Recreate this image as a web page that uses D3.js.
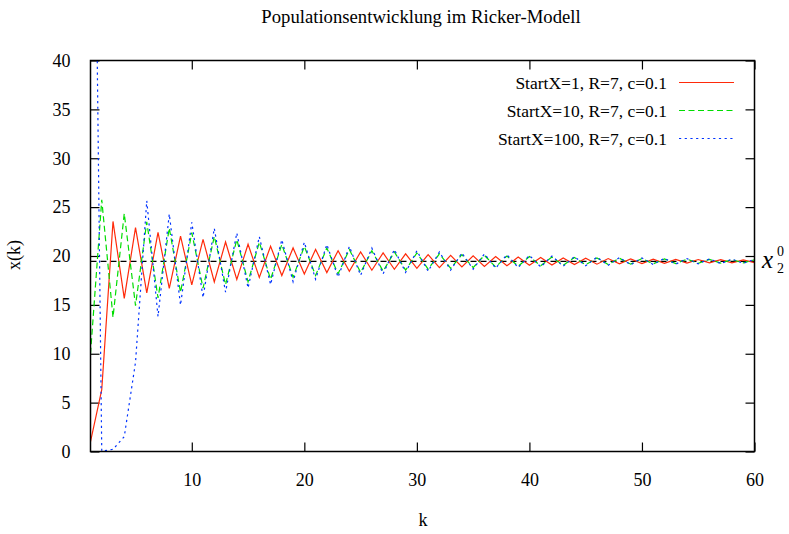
<!DOCTYPE html>
<html>
<head>
<meta charset="utf-8">
<script src="https://d3js.org/d3.v7.min.js"></script>
<style>
body{margin:0;background:#fff;}
text{font-family:"Liberation Serif","Times New Roman",serif;fill:#000;}
</style>
</head>
<body>
<script>
var width = 789, height = 534;
var margin = {left: 90.5, right: 34.5, top: 60.5, bottom: 82.5};

// population values x(k), k = 1..60
var series1 = [1, 6.334, 23.534, 15.657, 22.900, 16.233, 22.413, 16.681, 22.022, 17.043,
 21.701, 17.342, 21.431, 17.595, 21.200, 17.813, 21.000, 18.001, 20.827, 18.164,
 20.675, 18.308, 20.541, 18.434, 20.424, 18.545, 20.320, 18.644, 20.227, 18.732,
 20.145, 18.809, 20.072, 18.878, 20.007, 18.940, 19.949, 18.995, 19.897, 19.044,
 19.851, 19.088, 19.809, 19.128, 19.772, 19.163, 19.739, 19.194, 19.709, 19.222,
 19.683, 19.247, 19.659, 19.270, 19.638, 19.290, 19.619, 19.308, 19.602, 19.324];
var series2 = [10, 25.752, 13.725, 24.352, 14.929, 23.484, 15.702, 22.862, 16.268, 22.383,
 16.708, 21.999, 17.064, 21.682, 17.360, 21.414, 17.611, 21.186, 17.826, 20.988,
 18.012, 20.816, 18.175, 20.665, 18.317, 20.533, 18.442, 20.416, 18.553, 20.312,
 18.651, 20.221, 18.737, 20.140, 18.814, 20.068, 18.882, 20.004, 18.943, 19.946,
 18.998, 19.894, 19.047, 19.848, 19.091, 19.807, 19.130, 19.770, 19.165, 19.737,
 19.196, 19.708, 19.223, 19.682, 19.248, 19.658, 19.271, 19.637, 19.291, 19.618];
var series3 = [100, 0.0318, 0.2218, 1.518, 9.131, 25.648, 13.813, 24.294, 14.980, 23.444,
 15.739, 22.832, 16.295, 22.360, 16.729, 21.980, 17.082, 21.666, 17.375, 21.401,
 17.624, 21.174, 17.837, 20.978, 18.022, 20.807, 18.183, 20.658, 18.324, 20.526,
 18.449, 20.410, 18.558, 20.308, 18.655, 20.217, 18.741, 20.136, 18.818, 20.064,
 18.886, 20.000, 18.947, 19.942, 19.002, 19.891, 19.050, 19.845, 19.094, 19.804,
 19.132, 19.768, 19.167, 19.735, 19.198, 19.706, 19.225, 19.680, 19.250, 19.657];
var seriesNames = ["StartX=1, R=7, c=0.1", "StartX=10, R=7, c=0.1", "StartX=100, R=7, c=0.1"];
var equilibrium = 19.459;
var xTicks = [10, 20, 30, 40, 50, 60];
var yTicks = [0, 5, 10, 15, 20, 25, 30, 35, 40];

var colors = ["#ff2a0a", "#00dd00", "#0033ff"];
var dashes = [null, "6,3.5", "2.2,3.5"];

var svg = d3.select("body").append("svg")
 .attr("width", width).attr("height", height);

var x = d3.scaleLinear().domain([1, 60]).range([margin.left, width - margin.right]);
var y = d3.scaleLinear().domain([0, 40]).range([height - margin.bottom, margin.top]);

svg.append("defs").append("clipPath").attr("id", "clip")
 .append("rect")
 .attr("x", x(1)).attr("y", y(40))
 .attr("width", x(60) - x(1)).attr("height", y(0) - y(40));

// title
svg.append("text").attr("x", 421).attr("y", 23)
 .attr("text-anchor", "middle").style("font-size", "18.7px")
 .text("Populationsentwicklung im Ricker-Modell");

// axes with inward ticks, mirrored
var tl = 9;
var axBottom = d3.axisBottom(x).tickValues(xTicks).tickSize(-tl).tickPadding(tl + 13);
var axTop = d3.axisTop(x).tickValues(xTicks).tickSize(-tl).tickFormat("");
var axLeft = d3.axisLeft(y).tickValues(yTicks).tickSize(-tl).tickPadding(tl + 11);
var axRight = d3.axisRight(y).tickValues(yTicks).tickSize(-tl).tickFormat("");

function styleAxis(g) {
 g.select(".domain").remove();
 g.selectAll(".tick line").attr("stroke", "#000").attr("stroke-width", 1.2);
 g.selectAll(".tick text").style("font-size", "18px")
  .style("font-family", "'Liberation Serif', serif").attr("fill", "#000");
}
svg.append("g").attr("transform", "translate(0," + y(0) + ")").call(axBottom).call(styleAxis);
svg.append("g").attr("transform", "translate(0," + y(40) + ")").call(axTop).call(styleAxis);
svg.append("g").attr("transform", "translate(" + x(1) + ",0)").call(axLeft).call(styleAxis);
svg.append("g").attr("transform", "translate(" + x(60) + ",0)").call(axRight).call(styleAxis);

// equilibrium line
svg.append("line")
 .attr("x1", x(1)).attr("x2", x(60))
 .attr("y1", y(equilibrium)).attr("y2", y(equilibrium))
 .attr("stroke", "#000").attr("stroke-width", 1.2)
 .attr("stroke-dasharray", "6,4");

// series
var line = d3.line()
 .x(function(d, i) { return x(i + 1); })
 .y(function(d) { return y(d); });

var plot = svg.append("g").attr("clip-path", "url(#clip)");
[series1, series2, series3].forEach(function(s, i) {
 plot.append("path").datum(s)
  .attr("d", line)
  .attr("fill", "none")
  .attr("stroke", colors[i])
  .attr("stroke-width", 1.2)
  .attr("stroke-dasharray", dashes[i]);
});

// border
svg.append("rect")
 .attr("x", x(1)).attr("y", y(40))
 .attr("width", x(60) - x(1)).attr("height", y(0) - y(40))
 .attr("fill", "none").attr("stroke", "#000").attr("stroke-width", 1.5);

// legend
var legendY = [82.5, 110.5, 138.5];
seriesNames.forEach(function(name, i) {
 svg.append("text").attr("x", 667).attr("y", legendY[i] + 6)
  .attr("text-anchor", "end").style("font-size", "17.5px").text(name);
 svg.append("line")
  .attr("x1", 679).attr("x2", 734)
  .attr("y1", legendY[i]).attr("y2", legendY[i])
  .attr("stroke", colors[i]).attr("stroke-width", 1.2)
  .attr("stroke-dasharray", dashes[i]);
});

// axis labels
svg.append("text").attr("transform", "translate(20," + 255 + ") rotate(-90)")
 .attr("text-anchor", "middle").style("font-size", "18px").text("x(k)");
svg.append("text").attr("x", 423).attr("y", 526)
 .attr("text-anchor", "middle").style("font-size", "18px").text("k");

// x_2^0 label
var ly = y(equilibrium);
svg.append("text").attr("x", 762).attr("y", ly + 7)
 .style("font-size", "25px").style("font-style", "italic").text("x");
svg.append("text").attr("x", 777).attr("y", ly - 5)
 .style("font-size", "14px").text("0");
svg.append("text").attr("x", 777).attr("y", ly + 12)
 .style("font-size", "14px").text("2");
</script>
</body>
</html>
